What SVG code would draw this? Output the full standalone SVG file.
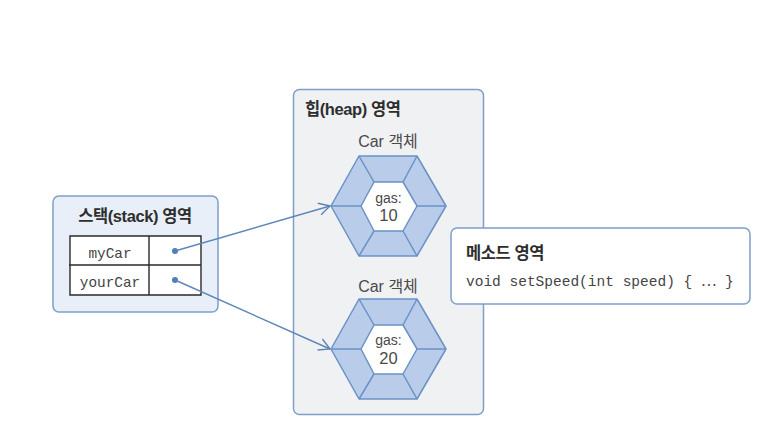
<svg xmlns="http://www.w3.org/2000/svg" width="778" height="444" viewBox="0 0 778 444">
<style>
.box{stroke:#7f9fc9;stroke-width:1.5}
.s{font-family:"Liberation Sans","Noto Sans CJK KR",sans-serif;fill:#4a4a4a}
.h{font-family:"Liberation Sans","Noto Sans CJK KR",sans-serif;font-size:16.500px;font-weight:700;fill:#2e2e2e;letter-spacing:-.4px}
.m{font-family:"Liberation Mono","Noto Sans CJK KR",monospace;fill:#444}
.hex{fill:#b9cdea;stroke:#6a92c6;stroke-width:1.5;stroke-linejoin:round}
.in{fill:#fff}
.c{stroke:#5d86b8;stroke-width:1.4;fill:none}
.t{stroke:#2a2a2a;stroke-width:1.4;fill:none}
</style>
<defs>
<marker id="a" viewBox="0 0 14 14" refX="13" refY="7" markerWidth="14" markerHeight="14" markerUnits="userSpaceOnUse" orient="auto"><path d="M2 1L13 7L2 13" fill="none" stroke="#5d86b8" stroke-width="1.4"/></marker>
<g id="hexshape">
<path class="hex" d="M331 0L359-50H417L446 0L417 50H359Z"/>
<path class="hex in" d="M361 0L374-24H403L417 0L403 25H374Z"/>
<path class="hex" style="fill:none" d="M359-50L374-24M417-50L403-24M331 0H361M446 0H417M359 50L374 25M417 50L403 25"/>
</g>
</defs>
<rect width="778" height="444" fill="#fff"/>
<g id="heap">
<rect class="box" x="293.500" y="89.500" width="190" height="325" rx="6" fill="#f0f1f3"/>
<text class="h" x="305" y="115">힙(heap) 영역</text>
</g>
<g id="car1">
<text class="s" x="388" y="147" font-size="16" text-anchor="middle">Car 객체</text>
<use href="#hexshape" y="206"/>
<text class="s" x="388.500" y="203" font-size="14" text-anchor="middle">gas:</text>
<text class="s" x="388.500" y="221" font-size="16.500" text-anchor="middle">10</text>
</g>
<g id="car2">
<text class="s" x="388" y="292" font-size="16" text-anchor="middle">Car 객체</text>
<use href="#hexshape" y="349"/>
<text class="s" x="388.500" y="345" font-size="14" text-anchor="middle">gas:</text>
<text class="s" x="388.500" y="364" font-size="16.500" text-anchor="middle">20</text>
</g>
<g id="stack">
<rect class="box" x="53" y="196" width="165" height="116" rx="6" fill="#e9eff8"/>
<text class="h" x="135" y="222" text-anchor="middle">스택(stack) 영역</text>
<rect x="70" y="236" width="131" height="59" fill="#fff"/>
<path class="t" d="M70 236H201V295H70ZM69 265H201M149 236V295"/>
<text class="m" font-size="14.400" x="110" y="258" text-anchor="middle">myCar</text>
<text class="m" font-size="14.400" x="110" y="287" text-anchor="middle">yourCar</text>
</g>
<g id="connectors">
<circle cx="175" cy="251" r="3" fill="#4f7dba"/>
<circle cx="175" cy="280" r="3" fill="#4f7dba"/>
<path class="c" marker-end="url(#a)" d="M175 251L330 206"/>
<path class="c" marker-end="url(#a)" d="M175 280L330 349"/>
</g>
<g id="method">
<rect class="box" x="451" y="228" width="299" height="76" rx="6" fill="#fff"/>
<text class="h" x="466" y="259">메소드 영역</text>
<text class="m" font-size="14.500" x="466" y="286">void setSpeed(int speed) { ⋯ }</text>
</g>
</svg>
